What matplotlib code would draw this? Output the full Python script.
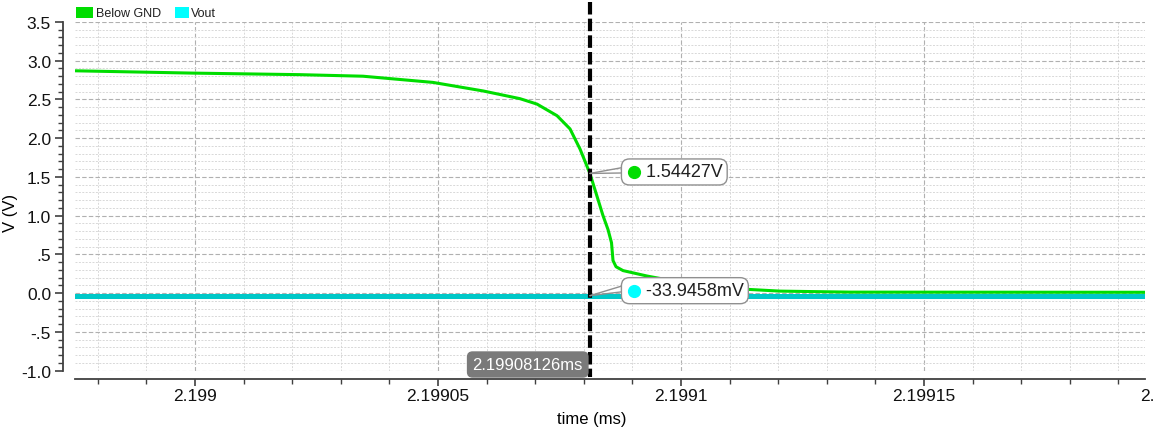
import matplotlib
matplotlib.use("Agg")
import matplotlib.pyplot as plt
import matplotlib.transforms as mtransforms
from matplotlib.patches import Rectangle
from matplotlib.ticker import FixedLocator, MultipleLocator, NullFormatter

plt.rcParams['font.family'] = ['Liberation Sans', 'DejaVu Sans']

# Transient waveforms (time in ms, voltage in V)
t_below = [2.19897531, 2.19899959, 2.19902160, 2.19903457, 2.19904897, 2.19905926,
           2.19906687, 2.19907037, 2.19907449, 2.19907716, 2.19907922, 2.19908126,
           2.19908395, 2.19908498, 2.19908570, 2.19908601, 2.19908663, 2.19908807,
           2.19909300, 2.19909979, 2.19911008, 2.19912037, 2.19913477, 2.19919547]
v_below = [2.87, 2.84, 2.82, 2.80, 2.72, 2.61,
           2.51, 2.44, 2.29, 2.12, 1.86, 1.54427,
           1.0, 0.82, 0.65, 0.42, 0.34, 0.29,
           0.22, 0.14, 0.06, 0.025, 0.012, 0.01]
t_vout = [2.19897531, 2.19919547]
v_vout = [-0.0339458, -0.0339458]

cursor_t = 2.19908126
cursor_label = "2.19908126ms"
marker_below = 1.54427
marker_vout = -0.0339458

x_ticks = [2.199, 2.19905, 2.1991, 2.19915]
x_ticklabels = ["2.199", "2.19905", "2.1991", "2.19915"]
x_edge_tick = 2.1992
x_edge_label = "2.1992"
y_ticks = [-1.0, -0.5, 0.0, 0.5, 1.0, 1.5, 2.0, 2.5, 3.0, 3.5]
y_ticklabels = ["-1.0", "-.5", "0.0", ".5", "1.0", "1.5", "2.0", "2.5", "3.0", "3.5"]

GREEN = "#00dd00"
CYAN_LINE = "#00c8c8"
CYAN = "#00ffff"
AXIS = "#404040"

W, H = 1155, 431
PT = 0.72  # points per pixel at 100 dpi
fig = plt.figure(figsize=(W / 100, H / 100), dpi=100)
ax = fig.add_axes([75 / W, (H - 371.5) / H, 1070 / W, 348.5 / H])

ax.set_xlim(2.19897531, 2.19919547)
ax.set_ylim(-1.0, 3.5)

# grid: minor dotted, major dashed
ax.xaxis.set_major_locator(FixedLocator(x_ticks))
ax.xaxis.set_minor_locator(MultipleLocator(0.00001))
ax.yaxis.set_major_locator(FixedLocator(y_ticks))
ax.yaxis.set_minor_locator(MultipleLocator(0.1))
ax.set_xticklabels(x_ticklabels)
ax.set_yticklabels(y_ticklabels)
ax.xaxis.set_minor_formatter(NullFormatter())
ax.grid(which='major', color='#b0b0b0', linestyle=(0, (4, 2)), linewidth=0.8)
ax.grid(which='minor', color='#d8d8d8', linestyle=(0, (2, 1.5)), linewidth=0.7)
ax.set_axisbelow(True)

for s in ['top', 'right']:
    ax.spines[s].set_visible(False)
ax.spines['left'].set_position(('outward', 12 * PT))
ax.spines['bottom'].set_position(('outward', 8.5 * PT))
for s in ['left', 'bottom']:
    ax.spines[s].set_color(AXIS)
    ax.spines[s].set_linewidth(1.3)
ax.tick_params(axis='both', which='major', direction='out', length=8 * PT,
               width=1.2, color=AXIS, labelsize=12.5, labelcolor='#111111')
ax.tick_params(axis='both', which='minor', direction='out', length=5 * PT,
               width=1.0, color=AXIS)
ax.tick_params(axis='y', which='major', pad=4 * PT)
ax.tick_params(axis='x', which='major', length=7 * PT, pad=2 * PT)

ax.plot(t_below, v_below, color=GREEN, linewidth=2.2, zorder=3)
ax.plot(t_vout, v_vout, color=CYAN_LINE, linewidth=3.6, zorder=4)

# next major tick label, partly beyond the right edge
ax.annotate(x_edge_label, xy=(x_edge_tick, 0), xycoords=ax.get_xaxis_transform(),
            xytext=(0, -17.5), textcoords='offset pixels', ha='center', va='top',
            fontsize=12.5, color='#111111', annotation_clip=False)
fig.text(592 / W, 1 - 420 / H, "time (ms)", ha='center', va='center', fontsize=12)
fig.text(10 / W, 1 - 213 / H, "V (V)", ha='center', va='center', rotation=90,
         fontsize=12)

# vertical cursor
trans = mtransforms.blended_transform_factory(ax.transData, ax.transAxes)
ax.plot([cursor_t, cursor_t], [1.057, -0.019], transform=trans, color='black',
        linewidth=3, linestyle=(0, (3, 1)), clip_on=False, zorder=6)
ax.annotate(cursor_label, xy=(cursor_t, -1.0), xytext=(-7, 6),
            textcoords='offset pixels', ha='right', va='center', color='white',
            fontsize=12, zorder=7, annotation_clip=False,
            bbox=dict(boxstyle='round,pad=0.3,rounding_size=0.3',
                      fc='#7a7a7a', ec='#7a7a7a'))

# value markers on the cursor
for val, txt, dot, rise in [(marker_below, "1.54427V", GREEN, (6, 0.5)),
                            (marker_vout, "-33.9458mV", CYAN, (10, 4))]:
    for dy in rise:
        ax.annotate("", xy=(cursor_t, val), xytext=(33, dy),
                    textcoords='offset pixels', zorder=8, annotation_clip=False,
                    arrowprops=dict(arrowstyle='-', color='#909090', lw=1.0,
                                    shrinkA=0, shrinkB=0))
    ax.annotate("    " + txt, xy=(cursor_t, val), xytext=(36, rise[1] + 1),
                textcoords='offset pixels', ha='left', va='center',
                fontsize=13, color='#202020', zorder=8,
                bbox=dict(boxstyle='round,pad=0.25,rounding_size=0.45',
                          fc='white', ec='#909090', lw=1.0))
    off = mtransforms.offset_copy(ax.transData, fig=fig, x=44 * PT,
                                  y=(rise[1] + 1) * PT, units='points')
    ax.plot([cursor_t], [val], 'o', color=dot, markersize=8.5, transform=off,
            zorder=9, clip_on=False)

# legend strip
fig.patches.append(Rectangle((76 / W, 1 - 19 / H), 17 / W, 11 / H,
                             transform=fig.transFigure, fc=GREEN, ec='none'))
fig.text(96 / W, 1 - 14 / H, "Below GND", fontsize=9, va='center', ha='left',
         color='#202020')
fig.patches.append(Rectangle((175 / W, 1 - 19 / H), 14 / W, 11 / H,
                             transform=fig.transFigure, fc=CYAN, ec='none'))
fig.text(191 / W, 1 - 14 / H, "Vout", fontsize=9, va='center', ha='left',
         color='#202020')

fig.savefig("out.png", dpi=100)
